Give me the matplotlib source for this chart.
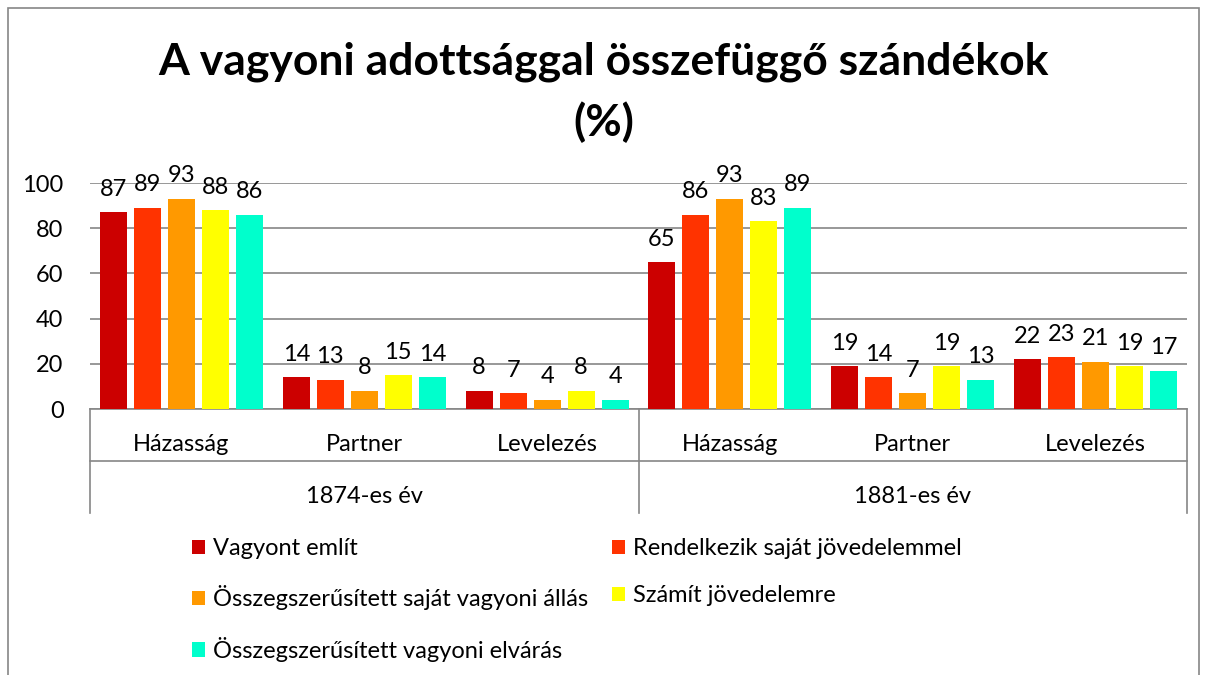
import numpy as np
import matplotlib
matplotlib.use("Agg")
import matplotlib.pyplot as plt
from matplotlib.patches import Rectangle

plt.rcParams['font.family'] = ['Lato', 'DejaVu Sans']

categories = ['Házasság', 'Partner', 'Levelezés', 'Házasság', 'Partner', 'Levelezés']
groups = ['1874-es év', '1881-es év']
series_names = ['Vagyont említ',
                'Rendelkezik saját jövedelemmel',
                'Összegszerűsített saját vagyoni állás',
                'Számít jövedelemre',
                'Összegszerűsített vagyoni elvárás']
vagyont = [87, 14, 8, 65, 19, 22]
rendelkezik = [89, 13, 7, 86, 14, 23]
ossz_sajat = [93, 8, 4, 93, 7, 21]
szamit = [88, 15, 8, 83, 19, 19]
ossz_elvaras = [86, 14, 4, 89, 13, 17]
values = [vagyont, rendelkezik, ossz_sajat, szamit, ossz_elvaras]
colors = ['#CC0000', '#FF3300', '#FF9900', '#FFFF00', '#00FFCC']

W, H = 1207, 675
fs = 17
fig = plt.figure(figsize=(W / 100, H / 100), dpi=100)
ax = fig.add_axes([90 / W, 1 - 409 / H, (1187 - 90) / W, (409 - 183) / H])

x = np.arange(len(categories))
pitch = 0.186
width = 0.148
bars = []
for i, (vals, col, name) in enumerate(zip(values, colors, series_names)):
    b = ax.bar(x + (i - 2) * pitch, vals, width, color=col, label=name, zorder=3)
    bars.append(b)
    for xi, v in zip(x + (i - 2) * pitch, vals):
        ax.annotate(str(v), (xi, v), xytext=(0, 9), textcoords='offset points',
                    ha='center', va='bottom', fontsize=fs, zorder=4)

ax.set_xlim(-0.5, len(categories) - 0.5)
ax.set_ylim(0, 100)
ax.set_yticks(range(0, 101, 20))
ax.yaxis.grid(True, color='#868686', linewidth=1.2, zorder=0)
ax.tick_params(axis='y', length=0, pad=19, labelsize=fs)
ax.set_xticks([])
for s in ax.spines.values():
    s.set_visible(False)

# category axis drawn as a table below the plot
tr = ax.get_xaxis_transform()
line_kw = dict(color='#868686', linewidth=1.2, transform=tr, clip_on=False)
ax.plot([-0.5, 5.5], [0, 0], **line_kw)
ax.plot([-0.5, 5.5], [-0.23, -0.23], **line_kw)
for sx in [-0.5, 2.5, 5.5]:
    ax.plot([sx, sx], [0, -0.46], **line_kw)
for xi, c in zip(x, categories):
    ax.text(xi, -0.159, c, transform=tr, ha='center', va='center', fontsize=fs)
for gi, g in enumerate(groups):
    ax.text(1 + 3 * gi, -0.385, g, transform=tr, ha='center', va='center', fontsize=fs)

fig.suptitle('A vagyoni adottsággal összefüggő szándékok\n(%)', fontsize=32,
             fontweight='bold', y=1 - 42 / H, va='top', linespacing=1.55)

# legend, filled row-wise like the original
order = [0, 2, 4, 1, 3]
handles = [bars[i] for i in order]
labels = [series_names[i] for i in order]
fig.legend(handles, labels, ncol=2, loc='upper left',
           bbox_to_anchor=(192 / W, 1 - 538 / H), frameon=False, fontsize=fs,
           handlelength=0.55, handleheight=0.55, handletextpad=0.35,
           columnspacing=1.0, labelspacing=1.12, borderpad=0, borderaxespad=0)

fig.patches.append(Rectangle((8 / W, -0.05), (1199 - 8) / W, 1.05 - 8 / H,
                             transform=fig.transFigure, fill=False,
                             edgecolor='#868686', linewidth=1.2))

fig.savefig('out.png', dpi=100)
